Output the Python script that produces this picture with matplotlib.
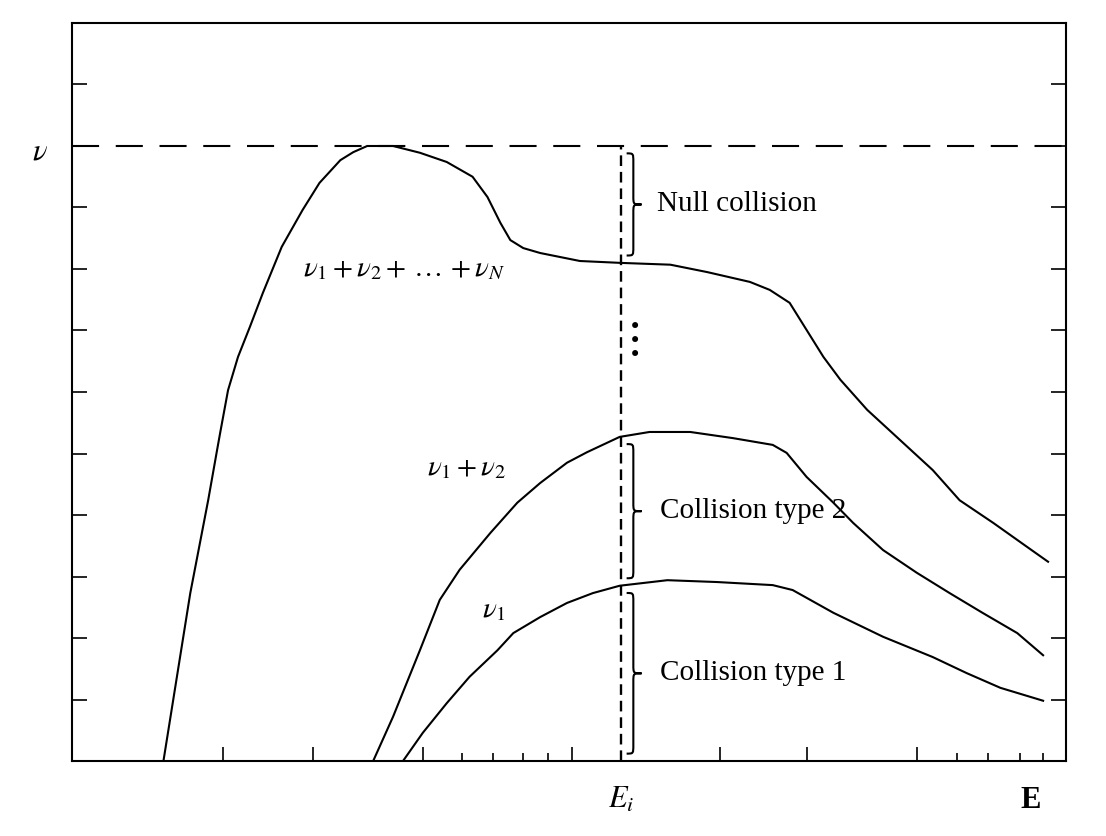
import numpy as np
import matplotlib
matplotlib.use("Agg")
import matplotlib.pyplot as plt
from matplotlib.path import Path
from matplotlib.patches import PathPatch

plt.rcParams['mathtext.fontset'] = 'stix'
plt.rcParams['font.family'] = ['Liberation Serif', 'DejaVu Serif', 'DejaVu Sans']

# energy axis (arbitrary units) and collision frequencies
E_total = [9.2, 11.9, 13.7, 14.6, 14.9, 15.7, 16.7, 17.9, 19.2, 21.1, 23.2, 24.9,
           27.0, 28.3, 29.7, 32.3, 35.0, 37.7, 40.3, 41.8, 43.1, 44.1, 45.4, 47.1,
           51.1, 55.1, 60.2, 63.9, 68.2, 70.2, 72.2, 73.9, 75.6, 77.3, 80.0, 83.3,
           86.6, 89.3, 92.7, 96.1, 98.2]
nu_total = [0.0, 2.73, 4.24, 5.06, 5.33, 6.03, 6.57, 7.06, 7.61, 8.36, 8.96, 9.40,
            9.77, 9.90, 10.0, 10.0, 9.89, 9.74, 9.50, 9.17, 8.75, 8.47, 8.34, 8.26,
            8.13, 8.10, 8.07, 7.95, 7.79, 7.66, 7.45, 7.01, 6.57, 6.20, 5.71, 5.22,
            4.73, 4.24, 3.87, 3.48, 3.24]

E_12 = [30.3, 32.3, 35.0, 37.0, 39.0, 42.1, 44.8, 47.1, 49.8, 51.8, 55.1, 58.1,
        62.2, 66.5, 70.5, 71.9, 73.9, 76.6, 78.6, 81.6, 85.0, 88.3, 91.6, 95.1, 97.7]
nu_12 = [0.0, 0.72, 1.80, 2.62, 3.11, 3.71, 4.20, 4.52, 4.85, 5.02, 5.27, 5.35,
         5.35, 5.25, 5.14, 5.01, 4.62, 4.20, 3.87, 3.43, 3.06, 2.73, 2.41, 2.08, 1.72]

E_1 = [33.3, 35.3, 37.7, 40.0, 42.8, 44.4, 47.1, 49.8, 52.4, 55.1, 59.9, 64.9,
       70.5, 72.5, 76.6, 81.6, 86.6, 90.0, 93.4, 97.7]
nu_1 = [0.0, 0.46, 0.94, 1.37, 1.80, 2.08, 2.34, 2.57, 2.73, 2.85, 2.94, 2.91,
        2.86, 2.78, 2.41, 2.02, 1.69, 1.43, 1.19, 0.98]

nu_max = 10.0
E_i = 55.2

x_major = [15.2, 24.2, 35.3, 50.3, 65.2, 73.9, 85.0]
x_minor = [39.2, 42.4, 45.4, 47.9, 89.0, 92.2, 95.4, 97.7]
y_ticks = [1, 2, 3, 4, 5, 6, 7, 8, 9, 10, 11]


def brace(ax, x, y_top, y_bot, w=1.5, r=0.14):
    # right-pointing curly brace between y_bot and y_top
    mid = (y_top + y_bot) / 2
    s = x + w * 0.45
    verts = [(x, y_top), (s, y_top), (s, y_top), (s, y_top - r),
             (s, mid + r),
             (s, mid), (s, mid), (x + w, mid),
             (s, mid), (s, mid), (s, mid - r),
             (s, y_bot + r),
             (s, y_bot), (s, y_bot), (x, y_bot)]
    codes = [Path.MOVETO, Path.CURVE4, Path.CURVE4, Path.CURVE4,
             Path.LINETO,
             Path.CURVE4, Path.CURVE4, Path.CURVE4,
             Path.CURVE4, Path.CURVE4, Path.CURVE4,
             Path.LINETO,
             Path.CURVE4, Path.CURVE4, Path.CURVE4]
    ax.add_patch(PathPatch(Path(verts, codes), fill=False, lw=1.5, color='black'))


fig = plt.figure(figsize=(11.06, 8.36), dpi=100)
ax = fig.add_axes([0.0651, 0.0897, 0.8987, 0.8828])

ax.plot(E_total, nu_total, color='black', lw=1.5)
ax.plot(E_12, nu_12, color='black', lw=1.5)
ax.plot(E_1, nu_1, color='black', lw=1.5)

ax.axhline(nu_max, color='black', lw=1.5, linestyle=(0, (13, 8)))
ax.plot([E_i, E_i], [0, nu_max], color='black', lw=1.7, linestyle=(0, (4.5, 2.5)))

# braces between the curves at E_i
top_n = np.interp(E_i, E_total, nu_total)
top_2 = np.interp(E_i, E_12, nu_12)
top_1 = np.interp(E_i, E_1, nu_1)
gap = 0.12
bx = 55.8
brace(ax, bx, nu_max - gap, top_n + gap)
brace(ax, bx, top_2 - gap, top_1 + gap)
brace(ax, bx, top_1 - gap, 0 + gap)

fs = 21
ax.text(58.9, (nu_max + top_n) / 2, 'Null collision', fontsize=fs, va='center')
ax.text(59.2, (top_2 + top_1) / 2, 'Collision type 2', fontsize=fs, va='center')
ax.text(59.2, top_1 / 2, 'Collision type 1', fontsize=fs, va='center')
ax.text(56.2, 6.85, r'$\vdots$', fontsize=34, ha='center', va='center')

ax.text(33.4, 8.0, r'$\nu_{\mathit{1}} + \nu_2 + \, \ldots \, + \nu_N$', fontsize=21,
        ha='center', va='center')
ax.text(39.7, 4.76, r'$\nu_{\mathit{1}} + \nu_2$', fontsize=21, ha='center', va='center')
ax.text(42.4, 2.46, r'$\nu_{\mathit{1}}$', fontsize=21, ha='center', va='center')

ax.text(-3.2, nu_max - 0.1, r'$\nu$', fontsize=22, ha='center', va='center')
ax.text(E_i, -0.64, r'$E_i$', fontsize=22, ha='center', va='center')
ax.text(96.4, -0.64, 'E', fontsize=22, fontweight='bold', ha='center', va='center')

ax.set_xlim(0, 100)
ax.set_ylim(0, 12)
ax.set_xticks(x_major)
ax.set_xticks(x_minor, minor=True)
ax.set_yticks(y_ticks)
ax.tick_params(axis='x', which='major', direction='in', length=10, width=1.2,
               labelbottom=False, top=False)
ax.tick_params(axis='x', which='minor', direction='in', length=6, width=1.2, top=False)
ax.tick_params(axis='y', direction='in', length=11, width=1.2, left=True, right=True,
               labelleft=False)
for sp in ax.spines.values():
    sp.set_linewidth(1.5)

fig.savefig('out.png', dpi=100)
